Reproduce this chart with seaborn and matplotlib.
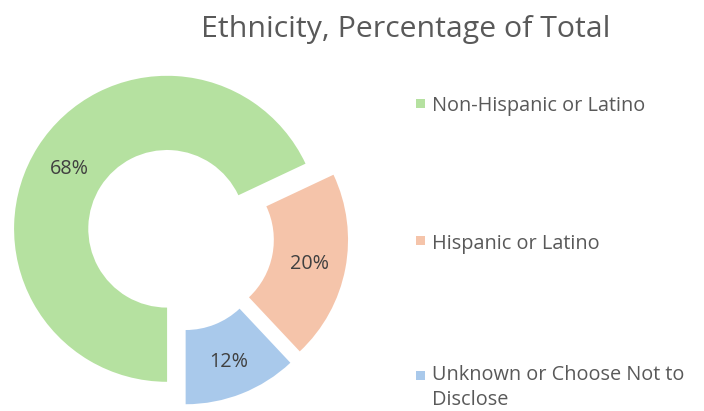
import matplotlib
matplotlib.use("Agg")
import matplotlib.pyplot as plt
import seaborn as sns
from matplotlib.patches import Rectangle

categories = ["Non-Hispanic or Latino", "Hispanic or Latino", "Unknown or Choose Not to\nDisclose"]
values = [68, 20, 12]
colors = ["#B5E1A0", "#F5C4AA", "#A9C9EB"]
title = "Ethnicity, Percentage of Total"

sns.set_theme(style="white")
plt.rcParams["font.family"] = ["Open Sans", "DejaVu Sans"]

W, H = 704, 411
fig = plt.figure(figsize=(W / 100, H / 100), dpi=100)

# pie axes in pixel geometry
R = 153.0
cx, cy = 180.0, 411 - 237.0
ax_w = 370.0
ax = fig.add_axes([0, 0, ax_w / W, 1])
ax.axis("off")

wedges, texts, autotexts = ax.pie(
    values,
    colors=colors,
    startangle=-90,
    counterclock=False,
    explode=[0.1] * len(values),
    radius=1.0,
    autopct=lambda p: f"{p:.0f}%",
    pctdistance=0.76,
    wedgeprops=dict(width=0.485, linewidth=0),
    textprops=dict(color="#404040", fontsize=14.2),
)
for t in autotexts:
    t.set_va("center_baseline")
ax.set_xlim(-cx / R, (ax_w - cx) / R)
ax.set_ylim(-cy / R, (H - cy) / R)
ax.set_aspect("auto")

fig.text(406 / W, 1 - 29 / H, title, ha="center", va="center",
         fontsize=21.8, color="#595959")

# legend
rows_y = [103, 241, 375]
for lab, col, y in zip(categories, colors, rows_y):
    fig.patches.append(Rectangle(((416) / W, 1 - (y + 4.5) / H), 9 / W, 9 / H,
                                 transform=fig.transFigure, color=col, linewidth=0))
    fig.text(432 / W, 1 - y / H, lab, ha="left", va="center_baseline",
             fontsize=14.3, color="#595959", linespacing=1.3)
fig.texts[-1].set_va("top")
fig.texts[-1].set_y(1 - (375 - 10) / H)

fig.savefig("out.png", dpi=100)
